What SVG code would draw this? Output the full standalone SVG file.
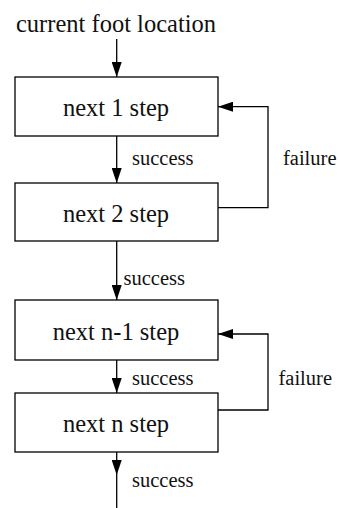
<svg xmlns="http://www.w3.org/2000/svg" width="339" height="508" viewBox="0 0 339 508">
<style>
.box{fill:#fff;stroke:#000;stroke-width:1.3}
.lbl{font-family:'Liberation Serif',serif;font-size:24.5px;fill:#111;text-anchor:middle}
.sm{font-family:'Liberation Serif',serif;font-size:20.5px;fill:#111}
.ln{fill:none;stroke:#000;stroke-width:1.3}
</style>
<defs>
<marker id="ah" markerUnits="userSpaceOnUse" markerWidth="15" markerHeight="10" refX="15" refY="5" orient="auto">
<path d="M0,0 L15,5 L0,10 z" fill="#000"/>
</marker>
</defs>
<rect width="339" height="508" fill="#fff"/>
<g id="start">
<text class="lbl" x="116" y="32">current foot location</text>
</g>
<g id="step1">
<rect class="box" x="15" y="77" width="203" height="59"/>
<text class="lbl" x="116" y="116">next 1 step</text>
</g>
<g id="step2">
<rect class="box" x="15" y="183" width="203" height="58"/>
<text class="lbl" x="116" y="221.5">next 2 step</text>
</g>
<g id="stepn1">
<rect class="box" x="15" y="300" width="203" height="60"/>
<text class="lbl" x="116" y="340">next n-1 step</text>
</g>
<g id="stepn">
<rect class="box" x="15" y="393" width="203" height="59"/>
<text class="lbl" x="116" y="431.5">next n step</text>
</g>
<g id="connectors">
<path class="ln" d="M116.7,39 V77" marker-end="url(#ah)"/>
<path class="ln" d="M116.7,136 V183" marker-end="url(#ah)"/>
<path class="ln" d="M218,207.7 H268 V106.7 H218" marker-end="url(#ah)"/>
<path class="ln" d="M116.7,241 V300" marker-end="url(#ah)"/>
<path class="ln" d="M116.7,360 V393" marker-end="url(#ah)"/>
<path class="ln" d="M218,410 H268 V334 H218" marker-end="url(#ah)"/>
<path class="ln" d="M116.7,452 V475" marker-end="url(#ah)"/>
<path class="ln" d="M116.7,475 V508"/>
<text class="sm" x="132" y="165">success</text>
<text class="sm" x="283" y="165">failure</text>
<text class="sm" x="123.5" y="284.5">success</text>
<text class="sm" x="132" y="385">success</text>
<text class="sm" x="278.5" y="385">failure</text>
<text class="sm" x="132" y="486.5">success</text>
</g>
</svg>
